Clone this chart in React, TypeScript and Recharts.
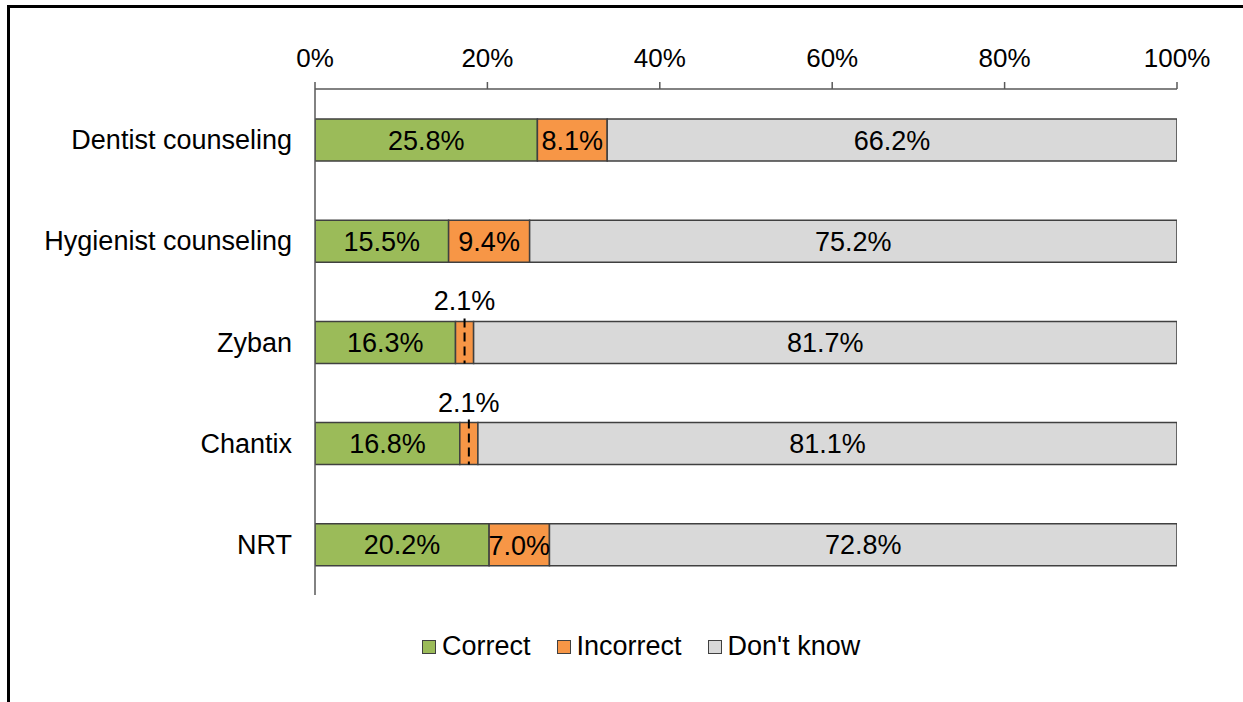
import React from 'react';
import { BarChart, Bar, XAxis, YAxis, Legend, LabelList } from 'recharts';

const categories = ['Dentist counseling', 'Hygienist counseling', 'Zyban', 'Chantix', 'NRT'];
const correct = [25.8, 15.5, 16.3, 16.8, 20.2];
const incorrect = [8.1, 9.4, 2.1, 2.1, 7.0];
const dontKnow = [66.2, 75.2, 81.7, 81.1, 72.8];
const xTicks = [0, 20, 40, 60, 80, 100];

const GREEN = '#9bbb59';
const ORANGE = '#f79646';
const GREY = '#d9d9d9';
const EDGE = '#404040';
const AXIS = '#595959';
const FONT = '"Liberation Sans", Arial, sans-serif';

const chartData = categories.map((name, i) => ({
  name,
  correct: correct[i],
  incorrect: incorrect[i],
  dontKnow: dontKnow[i],
}));

const fmt = (v: number) => `${Number(v).toFixed(1)}%`;

// small segments get their label above the bar with a dashed leader
const IncorrectLabel = (props: any) => {
  const { x, y, width, height, value } = props;
  const cx = x + width / 2;
  if (value < 5) {
    return (
      <g>
        <line
          x1={cx}
          x2={cx}
          y1={y - 3}
          y2={y + height}
          stroke="#000"
          strokeWidth={2}
          strokeDasharray="9 5"
        />
        <text x={cx} y={y - 11} textAnchor="middle" fontSize={27} fontFamily={FONT} fill="#000">
          {fmt(value)}
        </text>
      </g>
    );
  }
  return (
    <text
      x={cx}
      y={y + height / 2}
      dy="0.36em"
      textAnchor="middle"
      fontSize={27}
      fontFamily={FONT}
      fill="#000"
    >
      {fmt(value)}
    </text>
  );
};

const legendItems = [
  { label: 'Correct', color: GREEN },
  { label: 'Incorrect', color: ORANGE },
  { label: "Don't know", color: GREY },
];

const renderLegend = () => (
  <div
    style={{
      height: 73,
      paddingTop: 30,
      boxSizing: 'border-box',
      display: 'flex',
      alignItems: 'center',
      paddingLeft: 422,
      fontFamily: FONT,
      fontSize: 27,
      color: '#000',
    }}
  >
    {legendItems.map((it) => (
      <div key={it.label} style={{ display: 'flex', alignItems: 'center', marginRight: 26 }}>
        <span
          style={{
            display: 'inline-block',
            width: 12,
            height: 12,
            background: it.color,
            border: `1px solid ${EDGE}`,
            marginRight: 6,
          }}
        />
        <span>{it.label}</span>
      </div>
    ))}
  </div>
);

export default function App() {
  return (
    <div style={{ position: 'absolute', left: 0, top: 0, width: 1243, height: 702, background: '#fff' }}>
      <div
        style={{
          position: 'absolute',
          left: 7,
          top: 5,
          width: 1250,
          height: 710,
          borderTop: '3px solid #000',
          borderLeft: '3px solid #000',
        }}
      />
      <BarChart
        width={1243}
        height={702}
        data={chartData}
        layout="vertical"
        margin={{ top: 10, right: 66, left: 0, bottom: 34 }}
        barSize={42}
      >
        <XAxis
          type="number"
          orientation="top"
          domain={[0, 100]}
          allowDataOverflow
          ticks={xTicks}
          interval={0}
          tickFormatter={(v) => `${v}%`}
          height={79}
          tickSize={7}
          tickMargin={15}
          axisLine={{ stroke: AXIS, strokeWidth: 1.5 }}
          tickLine={{ stroke: AXIS, strokeWidth: 1.5 }}
          tick={{ fill: '#000', fontSize: 26, fontFamily: FONT }}
        />
        <YAxis
          type="category"
          dataKey="name"
          width={315}
          tickSize={0}
          tickMargin={23}
          axisLine={{ stroke: AXIS, strokeWidth: 1.5 }}
          tickLine={false}
          tick={{ fill: '#000', fontSize: 27, fontFamily: FONT }}
        />
        <Legend verticalAlign="bottom" content={renderLegend} />
        <Bar dataKey="correct" stackId="a" fill={GREEN} stroke={EDGE} strokeWidth={1.5} isAnimationActive={false}>
          <LabelList
            dataKey="correct"
            position="center"
            formatter={fmt}
            style={{ fill: '#000', fontSize: 27, fontFamily: FONT }}
          />
        </Bar>
        <Bar dataKey="incorrect" stackId="a" fill={ORANGE} stroke={EDGE} strokeWidth={1.5} isAnimationActive={false}>
          <LabelList dataKey="incorrect" content={IncorrectLabel} />
        </Bar>
        <Bar dataKey="dontKnow" stackId="a" fill={GREY} stroke={EDGE} strokeWidth={1.5} isAnimationActive={false}>
          <LabelList
            dataKey="dontKnow"
            position="center"
            formatter={fmt}
            style={{ fill: '#000', fontSize: 27, fontFamily: FONT }}
          />
        </Bar>
      </BarChart>
    </div>
  );
}
